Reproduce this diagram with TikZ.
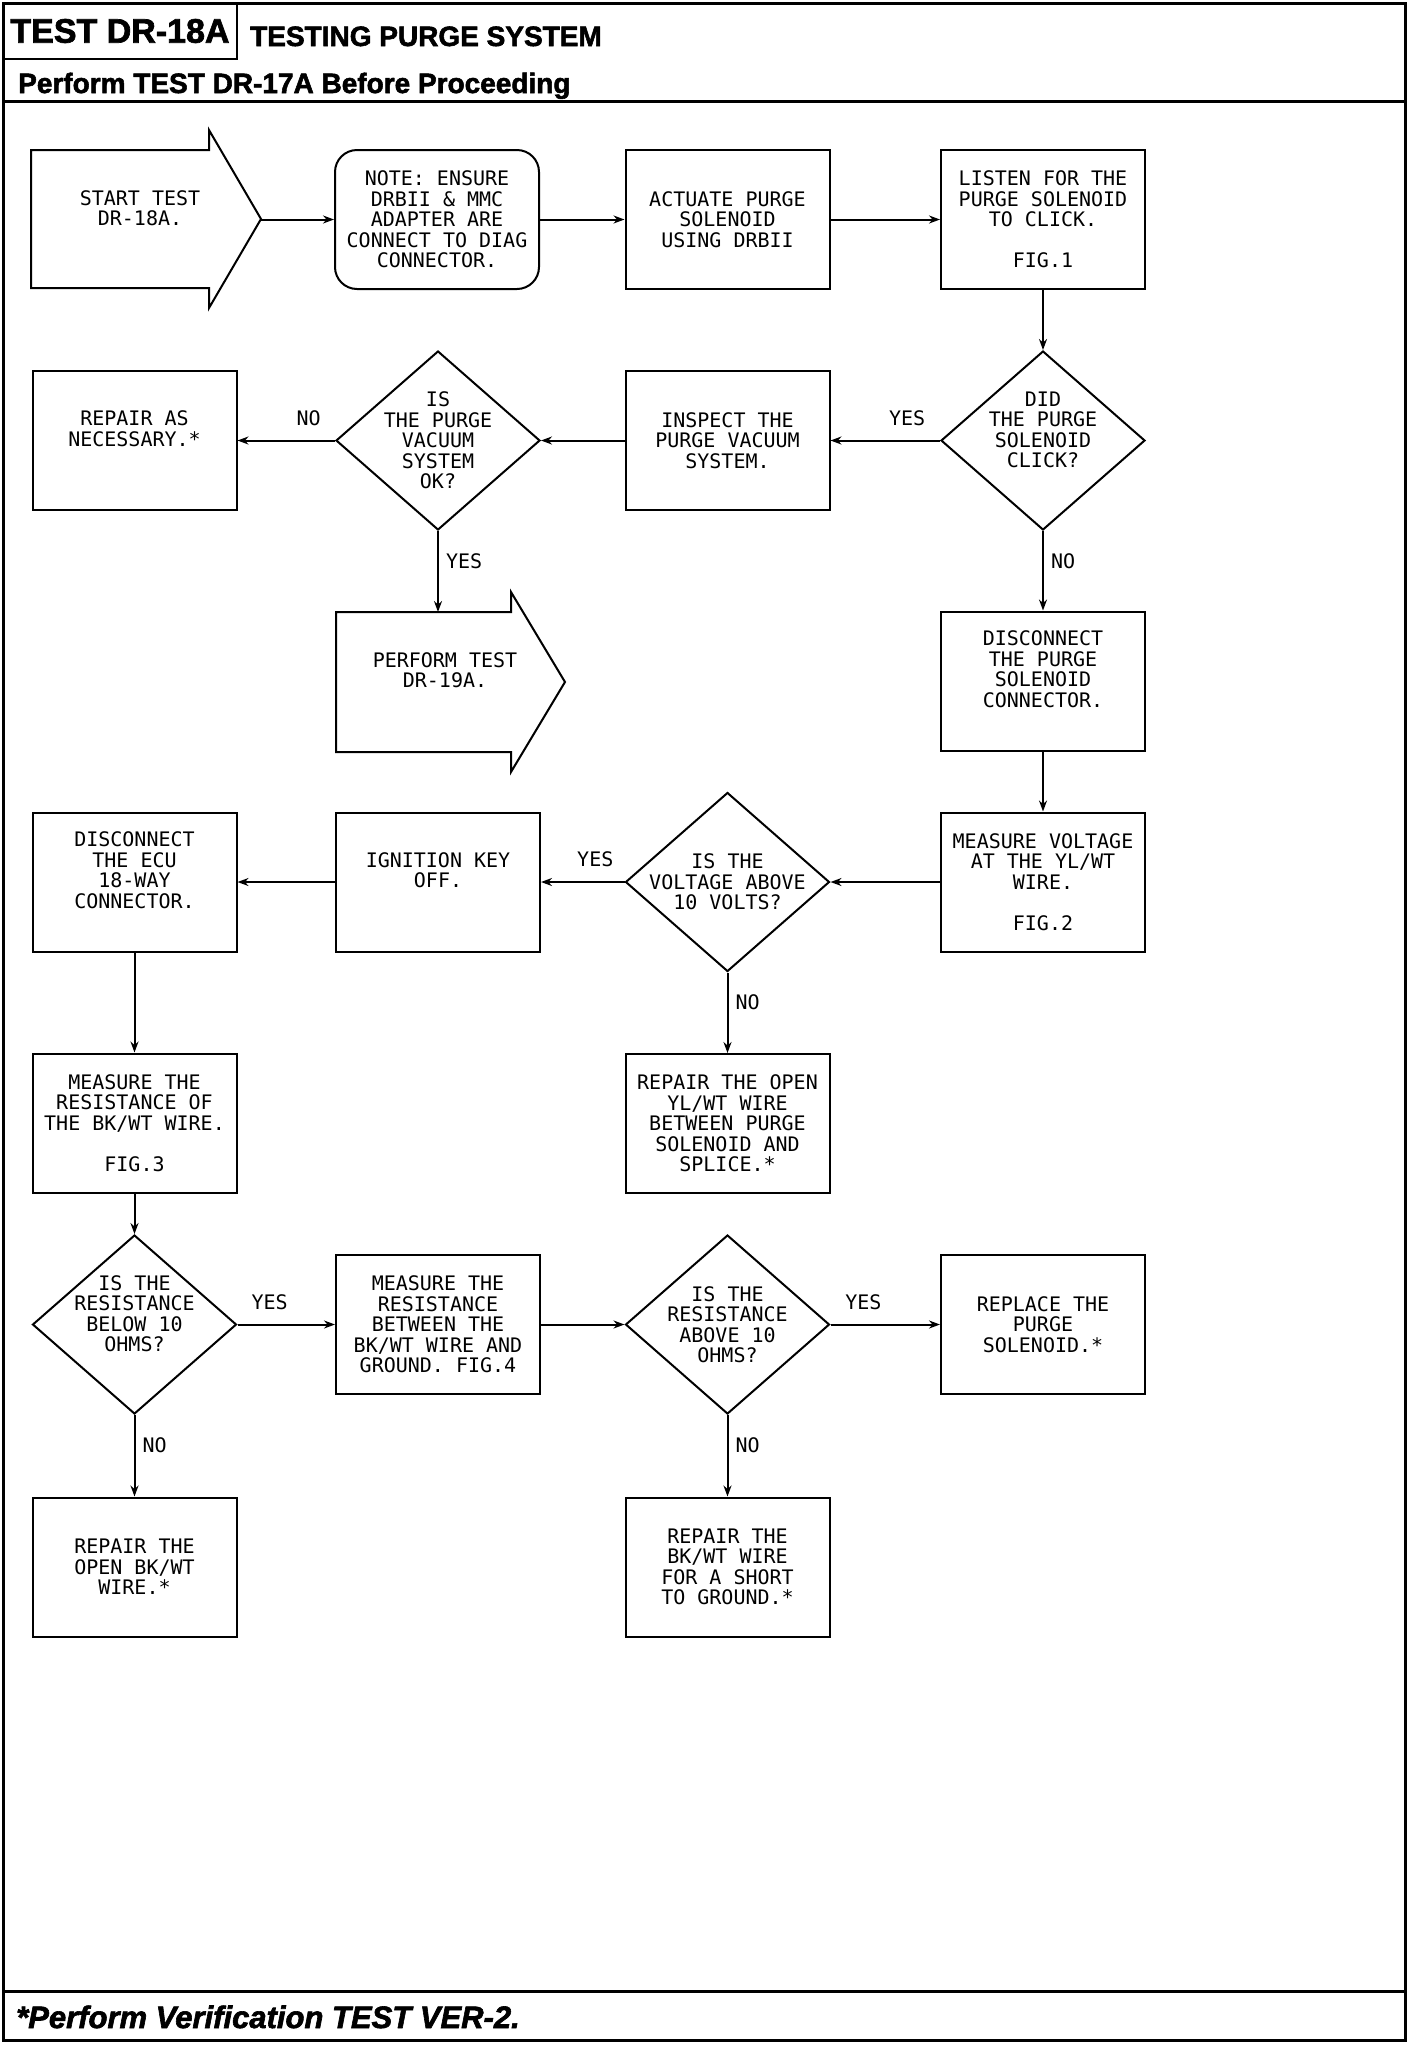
\documentclass[tikz,border=0pt]{standalone}
\usepackage{fontspec}
\setmainfont{Liberation Sans}[BoldFeatures={FakeBold=2}, BoldItalicFeatures={FakeBold=2}]
\newfontfamily\plotfont{DejaVu Sans Mono}
\usetikzlibrary{shapes.geometric,arrows.meta}

\begin{document}
\begin{tikzpicture}[
            x=1pt, y=-1pt,
            every node/.style={align=center, font=\plotfont\fontsize{20}{20.5}\selectfont},
            box/.style={draw, line width=2pt, minimum width=204pt, minimum height=139pt, inner sep=0pt},
            note/.style={box, rounded corners=22pt},
            bigarrow/.style={line width=2pt, line join=miter},
            query/.style={draw, diamond, line width=2pt, minimum width=204pt, minimum height=179pt, inner xsep=-30pt, inner ysep=-35pt},
            arr/.style={line width=2pt, -{Stealth[length=11pt, width=8pt]}},
            lbl/.style={inner sep=2pt},
            rule/.style={line width=3pt}]
        \useasboundingbox (0,0) rectangle (1408,2046);
        \draw[rule] (3,3) rectangle (1405,2040);
        \draw[rule] (3,101) -- (1405,101);
        \draw[rule] (3,1991) -- (1405,1991);
        \node[draw, line width=2.5pt, minimum width=234pt, minimum height=56pt, inner sep=0pt,
            font=\rmfamily\bfseries\fontsize{34}{36}\selectfont] (testno) at (120,31) {TEST DR-18A};
        \node[anchor=base west, inner sep=0pt, font=\rmfamily\bfseries\fontsize{28}{30}\selectfont]
            (subject) at (250,46) {TESTING PURGE SYSTEM};
        \node[anchor=base west, inner sep=0pt, font=\rmfamily\bfseries\fontsize{28}{30}\selectfont]
            (prereq) at (18,93) {Perform TEST DR-17A Before Proceeding};
        \node[anchor=base west, inner sep=0pt, font=\rmfamily\bfseries\itshape\fontsize{31}{33}\selectfont]
            (verify) at (16,2028) {*Perform Verification TEST VER-2.};

        \node (start) at (140,208) {START TEST\\DR-18A.};
        \draw[bigarrow] (start.center) ++(-109,-58) -- ++(178,0) -- ++(0,-20) -- ++(52,89)
            -- ++(-52,89) -- ++(0,-20) -- ++(-178,0) -- cycle;
        \coordinate (starttip) at ([shift={(121,11.5)}]start.center);
        \node[note] (ensure) at (437,219.5) {NOTE: ENSURE\\DRBII \& MMC\\ADAPTER ARE\\CONNECT TO DIAG\\CONNECTOR.};
        \node[box] (actuate) at (727.5,219.5) {ACTUATE PURGE\\SOLENOID\\USING DRBII};
        \node[box] (listen) at (1043,219.5) {LISTEN FOR THE\\PURGE SOLENOID\\TO CLICK.\\[20.5pt]FIG.1};

        \node[box] (repairas) at (134.5,440.5) {REPAIR AS\\NECESSARY.*\\[3.5pt]\mbox{}};
        \node[query] (vacuumok) at (438,440.5) {IS\\THE PURGE\\VACUUM\\SYSTEM\\OK?};
        \node[box] (inspect) at (727.5,440.5) {INSPECT THE\\PURGE VACUUM\\SYSTEM.};
        \node[query] (clicked) at (1043,440.5) {DID\\THE PURGE\\SOLENOID\\CLICK?\\[1.5pt]\mbox{}};

        \node (perform) at (445,670) {PERFORM TEST\\DR-19A.};
        \draw[bigarrow] (perform.center) ++(-109,-58) -- ++(175,0) -- ++(0,-20) -- ++(54,90)
            -- ++(-54,90) -- ++(0,-20) -- ++(-175,0) -- cycle;
        \coordinate (performin) at ([shift={(-7,-58)}]perform.center);
        \node[box] (unplug) at (1043,681) {DISCONNECT\\THE PURGE\\SOLENOID\\CONNECTOR.\\[3.5pt]\mbox{}};

        \node[box] (unplugecu) at (134.5,882) {DISCONNECT\\THE ECU\\18-WAY\\CONNECTOR.\\[3.5pt]\mbox{}};
        \node[box] (keyoff) at (438,882) {IGNITION KEY\\OFF.\\[3.5pt]\mbox{}};
        \node[query] (volts) at (727.5,882) {IS THE\\VOLTAGE ABOVE\\10 VOLTS?};
        \node[box] (voltage) at (1043,882) {MEASURE VOLTAGE\\AT THE YL/WT\\WIRE.\\[20.5pt]FIG.2};

        \node[box] (resist) at (134.5,1123) {MEASURE THE\\RESISTANCE OF\\THE BK/WT WIRE.\\[20.5pt]FIG.3};
        \node[box] (repairyl) at (727.5,1123.5) {REPAIR THE OPEN\\YL/WT WIRE\\BETWEEN PURGE\\SOLENOID AND\\SPLICE.*};

        \node[query] (below) at (134.5,1324.5) {IS THE\\RESISTANCE\\BELOW 10\\OHMS?\\[1.5pt]\mbox{}};
        \node[box] (resground) at (438,1324.5) {MEASURE THE\\RESISTANCE\\BETWEEN THE\\BK/WT WIRE AND\\GROUND. FIG.4};
        \node[query] (above) at (727.5,1324.5) {IS THE\\RESISTANCE\\ABOVE 10\\OHMS?};
        \node[box] (replace) at (1043,1324.5) {REPLACE THE\\PURGE\\SOLENOID.*};

        \node[box] (repairbk) at (134.5,1567) {REPAIR THE\\OPEN BK/WT\\WIRE.*};
        \node[box] (repairshort) at (727.5,1567) {REPAIR THE\\BK/WT WIRE\\FOR A SHORT\\TO GROUND.*};

        \draw[arr] (starttip) -- (ensure);
        \draw[arr] (ensure) -- (actuate);
        \draw[arr] (actuate) -- (listen);
        \draw[arr] (listen) -- (clicked);
        \draw[arr] (clicked) -- node[lbl, above=12pt, pos=.3] {YES} (inspect);
        \draw[arr] (inspect) -- (vacuumok);
        \draw[arr] (vacuumok) -- node[lbl, above=12pt, pos=.27] {NO} (repairas);
        \draw[arr] (vacuumok) -- node[lbl, right=5pt, pos=.37] {YES} (performin);
        \draw[arr] (clicked) -- node[lbl, right=5pt, pos=.38] {NO} (unplug);
        \draw[arr] (unplug) -- (voltage);
        \draw[arr] (voltage) -- (volts);
        \draw[arr] (volts) -- node[lbl, above=12pt, pos=.35] {YES} (keyoff);
        \draw[arr] (keyoff) -- (unplugecu);
        \draw[arr] (volts) -- node[lbl, right=5pt, pos=.37] {NO} (repairyl);
        \draw[arr] (unplugecu) -- (resist);
        \draw[arr] (resist) -- (below);
        \draw[arr] (below) -- node[lbl, above=12pt, pos=.33] {YES} (resground);
        \draw[arr] (resground) -- (above);
        \draw[arr] (above) -- node[lbl, above=12pt, pos=.3] {YES} (replace);
        \draw[arr] (below) -- node[lbl, right=5pt, pos=.37] {NO} (repairbk);
        \draw[arr] (above) -- node[lbl, right=5pt, pos=.37] {NO} (repairshort);
\end{tikzpicture}
\end{document}
